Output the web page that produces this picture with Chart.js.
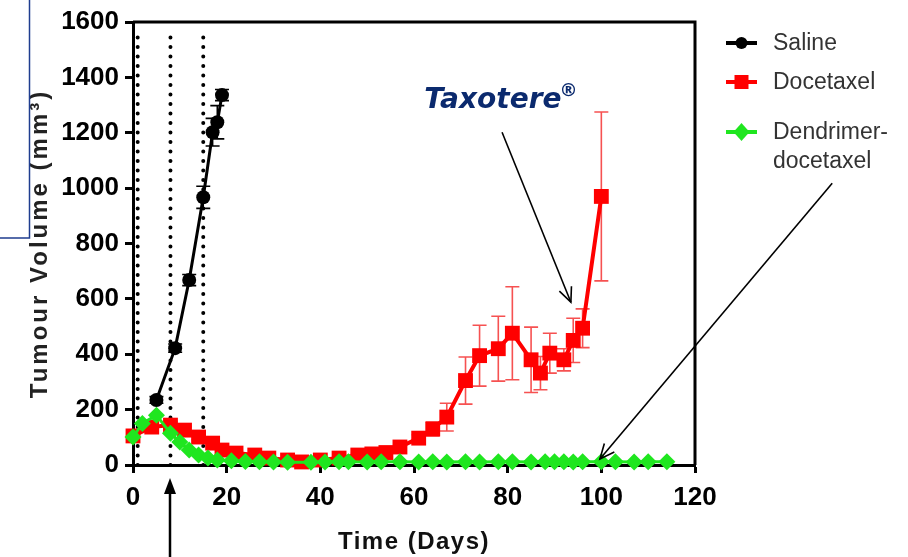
<!DOCTYPE html>
<html><head><meta charset="utf-8">
<script src="https://cdn.jsdelivr.net/npm/chart.js@4.4.1/dist/chart.umd.min.js"></script>
<style>html,body{margin:0;padding:0;background:#fff;overflow:hidden}#wrap{width:908px;height:557px;position:relative}</style>
</head><body><div id="wrap"><canvas id="c" width="908" height="557"></canvas></div>
<script>
// ---- data ----
const xTickValues = [0, 20, 40, 60, 80, 100, 120];
const yTickValues = [0, 200, 400, 600, 800, 1000, 1200, 1400, 1600];

const salineDays = [5, 9, 12, 15, 17, 18, 19];
const salineVol  = [235, 422, 668, 967, 1202, 1238, 1336];
const salineErr  = [12, 15, 20, 40, 50, 60, 20];

const docDays = [0, 4, 8, 11, 14, 17, 19, 22, 26, 29, 33, 36, 40, 44, 48, 51, 54, 57, 61, 64, 67, 71, 74, 78, 81, 85, 87, 89, 92, 94, 96, 100];
const docVol  = [105, 137, 144, 126, 101, 79, 54, 43, 36, 25, 18, 11, 18, 25, 36, 40, 45, 65, 97, 130, 173, 305, 395, 420, 476, 380, 332, 404, 380, 450, 494, 970];
const docErr  = [10, 10, 12, 12, 10, 8, 8, 6, 6, 5, 5, 4, 5, 5, 6, 6, 8, 10, 12, 25, 50, 85, 110, 117, 168, 118, 60, 72, 40, 80, 70, 305];

const dendDays = [0, 2, 5, 8, 10, 12, 14, 16, 18, 21, 24, 27, 30, 33, 38, 41, 44, 46, 50, 53, 57, 61, 64, 67, 71, 74, 78, 81, 85, 88, 90, 92, 94, 96, 100, 103, 107, 110, 114];
const dendVol  = [101, 150, 180, 115, 83, 54, 36, 25, 18, 15, 13, 12, 11, 10, 10, 11, 12, 12, 11, 12, 12, 11, 12, 11, 12, 11, 12, 12, 11, 12, 12, 12, 11, 12, 12, 12, 11, 12, 12];

const doseDays = [1, 8, 15];
const doseSpan = [0, 1550];

const seriesNames = ['Saline', 'Docetaxel', 'Dendrimer-docetaxel'];
const legendLines = [['Saline'], ['Docetaxel'], ['Dendrimer-', 'docetaxel']];

// annotations (data coordinates)
const taxLabel = {text: 'Taxotere', mark: '\u00AE', x: 62.2, y: 1289};
const taxArrow = {from: [78.8, 1202], to: [93.5, 588]};
const dendArrow = {from: [149.3, 1018], to: [99.7, 22]};
const treatArrowDay = 7.9;

// ---- chart ----
const pts = (xs, ys) => xs.map((x, i) => ({x: x, y: ys[i]}));
const GREEN = '#1fe61f', RED = '#ff0000', BLACK = '#000000';

const datasets = [
  {label: seriesNames[2], data: pts(dendDays, dendVol), borderColor: GREEN, backgroundColor: GREEN,
   borderWidth: 3, pointStyle: 'rectRot', pointRadius: 8.5, pointBorderWidth: 0, order: 0, clip: false, tension: 0},
  {label: seriesNames[0], data: pts(salineDays, salineVol), borderColor: BLACK, backgroundColor: BLACK,
   borderWidth: 3, pointStyle: 'circle', pointRadius: 7, pointBorderWidth: 0, order: 1, clip: false,
   err: salineErr, errColor: BLACK},
  {label: seriesNames[1], data: pts(docDays, docVol), borderColor: RED, backgroundColor: RED,
   borderWidth: 4, pointStyle: 'rect', pointRadius: 10.5, pointBorderWidth: 0, order: 2, clip: false,
   err: docErr, errColor: 'rgba(245,50,50,0.85)'}
];
doseDays.forEach(d => datasets.push({
  label: 'dose', data: doseSpan.map(v => ({x: d, y: v})), borderColor: BLACK, borderWidth: 4,
  borderDash: [0, 9.5], borderCapStyle: 'round', pointRadius: 0, order: 3, clip: false
}));

const errorBars = {
  id: 'errorBars',
  beforeDatasetsDraw(chart) {
    const ctx = chart.ctx, ys = chart.scales.y;
    chart.data.datasets.forEach((ds, i) => {
      if (!ds.err) return;
      const meta = chart.getDatasetMeta(i);
      ctx.save();
      ctx.strokeStyle = ds.errColor; ctx.lineWidth = 1.6;
      meta.data.forEach((el, j) => {
        const v = ds.data[j].y, e = ds.err[j];
        const t = ys.getPixelForValue(v + e), b = ys.getPixelForValue(Math.max(0, v - e));
        ctx.beginPath();
        ctx.moveTo(el.x, t); ctx.lineTo(el.x, b);
        ctx.moveTo(el.x - 7, t); ctx.lineTo(el.x + 7, t);
        ctx.moveTo(el.x - 7, b); ctx.lineTo(el.x + 7, b);
        ctx.stroke();
      });
      ctx.restore();
    });
  }
};

function arrowHead(ctx, x1, y1, x2, y2, len, ang) {
  const a = Math.atan2(y2 - y1, x2 - x1);
  ctx.beginPath();
  ctx.moveTo(x2 - len * Math.cos(a - ang), y2 - len * Math.sin(a - ang));
  ctx.lineTo(x2, y2);
  ctx.lineTo(x2 - len * Math.cos(a + ang), y2 - len * Math.sin(a + ang));
  ctx.stroke();
}

// letter spacing for axis titles (the original has loosely spaced titles)
const titleSpacing = {
  id: 'titleSpacing',
  afterLayout(chart) {
    [['y', '3px'], ['x', '1.5px']].forEach(([id, sp]) => {
      const s = chart.scales[id];
      if (s._spacedTitle) return;
      const orig = s.drawTitle.bind(s);
      s.drawTitle = function () {
        const c = this.ctx; const prev = c.letterSpacing;
        c.letterSpacing = sp; orig(); c.letterSpacing = prev || '0px';
      };
      s._spacedTitle = true;
    });
  }
};

const decor = {
  id: 'decor',
  afterDraw(chart) {
    const ctx = chart.ctx, xs = chart.scales.x, ys = chart.scales.y, ca = chart.chartArea;
    ctx.save();
    // frame top & right
    ctx.strokeStyle = BLACK; ctx.lineWidth = 3;
    ctx.beginPath();
    ctx.moveTo(ca.left, ca.top); ctx.lineTo(ca.right, ca.top); ctx.lineTo(ca.right, ca.bottom);
    ctx.stroke();

    // legend
    const lx0 = ca.right + 31, lx1 = ca.right + 62, tx = ca.right + 78;
    const rows = [43, 82, 132];
    const cols = [BLACK, RED, GREEN];
    const styles = ['circle', 'rect', 'diamond'];
    ctx.font = '23px "Liberation Sans", Arial, sans-serif';
    ctx.textBaseline = 'middle';
    rows.forEach((ry, k) => {
      ctx.strokeStyle = cols[k]; ctx.fillStyle = cols[k]; ctx.lineWidth = 4;
      ctx.beginPath(); ctx.moveTo(lx0, ry); ctx.lineTo(lx1, ry); ctx.stroke();
      const cx = (lx0 + lx1) / 2;
      ctx.beginPath();
      if (styles[k] === 'circle') ctx.arc(cx, ry, 6, 0, Math.PI * 2);
      else if (styles[k] === 'rect') ctx.rect(cx - 7, ry - 7, 14, 14);
      else { ctx.moveTo(cx, ry - 9); ctx.lineTo(cx + 8, ry); ctx.lineTo(cx, ry + 9); ctx.lineTo(cx - 8, ry); ctx.closePath(); }
      ctx.fill();
      ctx.fillStyle = '#333333';
      legendLines[k].forEach((ln, m) => ctx.fillText(ln, tx, ry + 1 + m * 29));
    });

    // Taxotere label
    ctx.fillStyle = '#0b2a6e';
    ctx.font = 'italic bold 28px "DejaVu Sans", sans-serif';
    ctx.textBaseline = 'alphabetic';
    const lx = xs.getPixelForValue(taxLabel.x), ly = ys.getPixelForValue(taxLabel.y);
    ctx.fillText(taxLabel.text, lx, ly);
    const w = ctx.measureText(taxLabel.text).width;
    ctx.font = 'italic bold 18px "DejaVu Sans", sans-serif';
    ctx.fillText(taxLabel.mark, lx + w - 2, ly - 12);

    // annotation arrows
    ctx.strokeStyle = BLACK; ctx.lineWidth = 1.6;
    [taxArrow, dendArrow].forEach(a => {
      const x1 = xs.getPixelForValue(a.from[0]), y1 = ys.getPixelForValue(a.from[1]);
      const x2 = xs.getPixelForValue(a.to[0]), y2 = ys.getPixelForValue(a.to[1]);
      ctx.beginPath(); ctx.moveTo(x1, y1); ctx.lineTo(x2, y2); ctx.stroke();
      arrowHead(ctx, x1, y1, x2, y2, 16, 0.42);
    });

    // treatment arrow below axis
    const bx = xs.getPixelForValue(treatArrowDay);
    const tipY = ca.bottom + 13;
    ctx.lineWidth = 2.5;
    ctx.beginPath(); ctx.moveTo(bx, chart.height); ctx.lineTo(bx, tipY + 10); ctx.stroke();
    ctx.fillStyle = BLACK;
    ctx.beginPath(); ctx.moveTo(bx, tipY); ctx.lineTo(bx + 6, tipY + 16); ctx.lineTo(bx - 6, tipY + 16); ctx.closePath(); ctx.fill();

    // blue frame fragment
    ctx.strokeStyle = '#1f3d8f'; ctx.lineWidth = 1.5;
    ctx.beginPath(); ctx.moveTo(29.5, 0); ctx.lineTo(29.5, 238); ctx.lineTo(0, 238); ctx.stroke();
    ctx.restore();
  }
};

const tickFont = {family: '"Liberation Sans", Arial, sans-serif', size: 26, weight: 'bold'};
const titleFont = {family: '"Liberation Sans", Arial, sans-serif', size: 24, weight: 'bold'};
const plain = v => String(v);

new Chart(document.getElementById('c'), {
  type: 'line',
  data: {datasets: datasets},
  options: {
    responsive: false, animation: false, devicePixelRatio: 1,
    layout: {padding: {top: 22, right: 213, left: 0, bottom: 0}},
    plugins: {legend: {display: false}, tooltip: {enabled: false}},
    elements: {line: {tension: 0}},
    scales: {
      x: {
        type: 'linear', min: 0, max: 120,
        afterBuildTicks: s => { s.ticks = xTickValues.map(v => ({value: v})); },
        afterFit: s => { s.height = 92; },
        ticks: {font: tickFont, color: BLACK, padding: 9, maxRotation: 0, autoSkip: false, callback: plain},
        grid: {display: true, drawOnChartArea: false, tickLength: 8, tickWidth: 3, tickColor: BLACK},
        border: {display: true, color: BLACK, width: 3},
        title: {display: true, text: 'Time (Days)', font: titleFont, color: '#111', padding: {top: 3, bottom: 0}}
      },
      y: {
        type: 'linear', min: 0, max: 1600,
        afterBuildTicks: s => { s.ticks = yTickValues.map(v => ({value: v})); },
        afterFit: s => { s.width = 133; },
        ticks: {font: tickFont, color: BLACK, padding: 6, callback: plain},
        grid: {display: true, drawOnChartArea: false, tickLength: 8, tickWidth: 3, tickColor: BLACK},
        border: {display: true, color: BLACK, width: 3},
        title: {display: true, text: 'Tumour Volume (mm\u00B3)', font: titleFont, color: '#222', padding: {top: 26, bottom: 0}}
      }
    }
  },
  plugins: [errorBars, titleSpacing, decor]
});
</script></body></html>
